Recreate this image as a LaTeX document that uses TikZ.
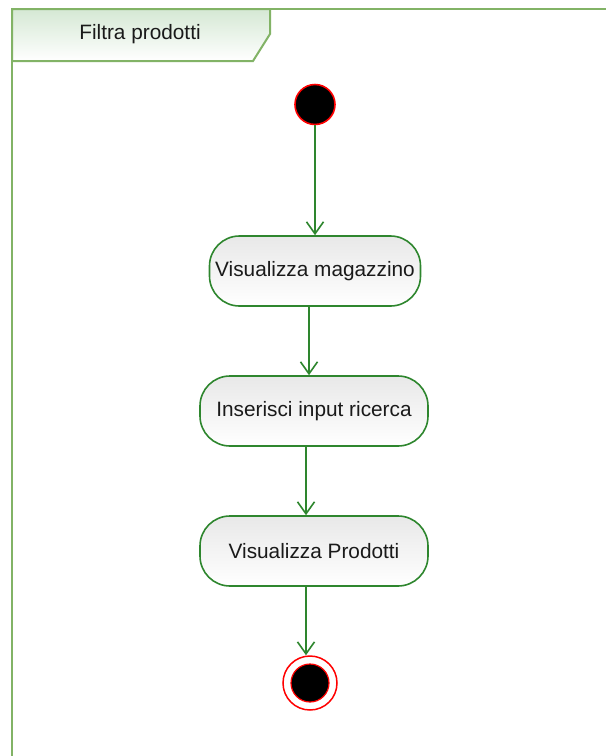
\documentclass[tikz,border=0pt]{standalone}
\usepackage{fontspec}
\setmainfont{Liberation Sans}
\usetikzlibrary{arrows.meta}
\definecolor{framegreen}{HTML}{82B366}
\definecolor{tabfill}{HTML}{D5E8D4}
\definecolor{actstroke}{HTML}{2E862E}
\definecolor{flowgreen}{HTML}{2E862E}
\definecolor{textdark}{HTML}{1A1A1A}
\tikzset{
  labelfont/.style={font=\fontsize{20.8}{24}\selectfont, text=textdark},
  action/.style={draw=actstroke, line width=1.6pt, rounded corners=30pt,
    top color=black!9, bottom color=white, minimum height=70pt,
    inner sep=0pt, labelfont},
  initial/.style={circle, draw=red, fill=black, line width=1.6pt,
    minimum size=40pt, inner sep=0pt},
  final/.style={circle, draw=red, fill=white, line width=1.5pt,
    minimum size=54pt, inner sep=0pt},
  finaldot/.style={circle, draw=red, fill=black, line width=1.2pt,
    minimum size=38pt, inner sep=0pt},
  flow/.style={draw=flowgreen, line width=1.6pt,
    -{Straight Barb[length=12pt, width=17pt, line width=1.6pt]}},
}
\begin{document}
\begin{tikzpicture}[x=1pt, y=-1pt]
  \useasboundingbox[fill=white] (0,0) rectangle (606,756);

  % activity frame and its name tab
  \draw[framegreen, line width=2pt] (12,756) -- (12,9) -- (606,9);
  \path[top color=tabfill, bottom color=white, draw=framegreen, line width=2pt]
    (12,9) -- (270,9) -- (270,34) -- (253,61) -- (12,61) -- cycle;
  \node[labelfont] (title) at (140,34) {Filtra prodotti};

  % activity nodes
  \node[initial] (start) at (315,104.5) {};
  \node[action, minimum width=211pt] (a1) at (315,271) {Visualizza magazzino};
  \node[action, minimum width=228pt] (a2) at (314,411) {Inserisci input ricerca};
  \node[action, minimum width=228pt] (a3) at (314,551) {Visualizza Prodotti};
  \node[final] (stop) at (310,683) {};
  \node[finaldot] (stopdot) at (stop.center) {};

  % control flow
  \draw[flow] (start) -- (start |- a1.north);
  \draw[flow] ([xshift=-6pt]a1.south) -- ([xshift=-6pt]a1.south |- a2.north);
  \draw[flow] ([xshift=-8pt]a2.south) -- ([xshift=-8pt]a3.north);
  \draw[flow] ([xshift=-8pt]a3.south) -- ([xshift=-8pt]a3.south |- stop.north);
\end{tikzpicture}
\end{document}
